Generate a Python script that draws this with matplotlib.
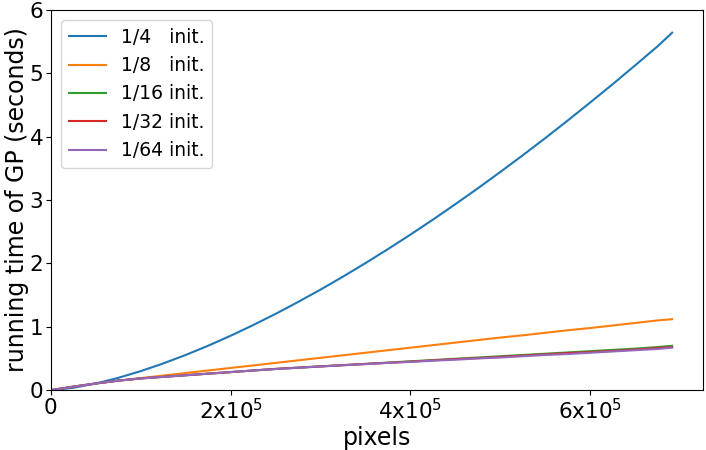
import numpy as np
import matplotlib
matplotlib.use("Agg")
import matplotlib.pyplot as plt

# pixel counts (x) and running time in seconds for each init fraction
pixels = [0, 25000, 50000, 75000, 100000, 125000, 150000, 175000, 200000,
          225000, 250000, 275000, 300000, 325000, 350000, 375000, 400000,
          425000, 450000, 475000, 500000, 525000, 550000, 575000, 600000,
          625000, 650000, 675000, 691200]
t_4 = [0, 0.037, 0.105, 0.194, 0.30, 0.421, 0.555, 0.701, 0.858,
       1.026, 1.203, 1.391, 1.586, 1.791, 2.004, 2.225, 2.454,
       2.690, 2.934, 3.184, 3.442, 3.706, 3.976, 4.254, 4.538,
       4.827, 5.124, 5.425, 5.64]
t_8 = [0, 0.055, 0.105, 0.15, 0.19, 0.23, 0.27, 0.31, 0.35,
       0.39, 0.43, 0.47, 0.51, 0.55, 0.59, 0.63, 0.67,
       0.71, 0.75, 0.79, 0.83, 0.865, 0.905, 0.945, 0.98,
       1.02, 1.06, 1.10, 1.12]
t_16 = [0, 0.055, 0.105, 0.15, 0.185, 0.21, 0.235, 0.26, 0.285,
        0.31, 0.335, 0.355, 0.375, 0.395, 0.415, 0.435, 0.455,
        0.475, 0.495, 0.515, 0.535, 0.555, 0.575, 0.595, 0.615,
        0.635, 0.655, 0.68, 0.70]
t_32 = [0, 0.055, 0.105, 0.15, 0.185, 0.21, 0.235, 0.26, 0.285,
        0.31, 0.335, 0.355, 0.375, 0.395, 0.413, 0.432, 0.45,
        0.47, 0.49, 0.505, 0.525, 0.545, 0.565, 0.585, 0.60,
        0.62, 0.64, 0.665, 0.68]
t_64 = [0, 0.055, 0.105, 0.15, 0.185, 0.21, 0.235, 0.26, 0.285,
        0.31, 0.333, 0.353, 0.373, 0.392, 0.41, 0.43, 0.445,
        0.465, 0.48, 0.50, 0.515, 0.535, 0.555, 0.57, 0.59,
        0.61, 0.63, 0.65, 0.67]
labels = ["1/4   init.", "1/8   init.", "1/16 init.", "1/32 init.", "1/64 init."]

fig = plt.figure(figsize=(7.06, 4.5), dpi=100)
ax = fig.add_axes([0.072, 0.133, 0.924, 0.845])

for ys, lab in zip([t_4, t_8, t_16, t_32, t_64], labels):
    ax.plot(pixels, ys, label=lab, linewidth=1.5)

ax.set_xlim(left=0)
ax.set_ylim(0, 6)
ax.set_xticks([0, 200000, 400000, 600000])
ax.set_xticklabels(["0", r"2x10$^5$", r"4x10$^5$", r"6x10$^5$"])
ax.tick_params(labelsize=15.5, pad=2)
ax.set_xlabel("pixels", fontsize=17, labelpad=2)
ax.set_ylabel("running time of GP (seconds)", fontsize=17, labelpad=0)
ax.legend(loc="upper left", fontsize=13.5, borderaxespad=0.55)

fig.savefig("out.png", dpi=100)
